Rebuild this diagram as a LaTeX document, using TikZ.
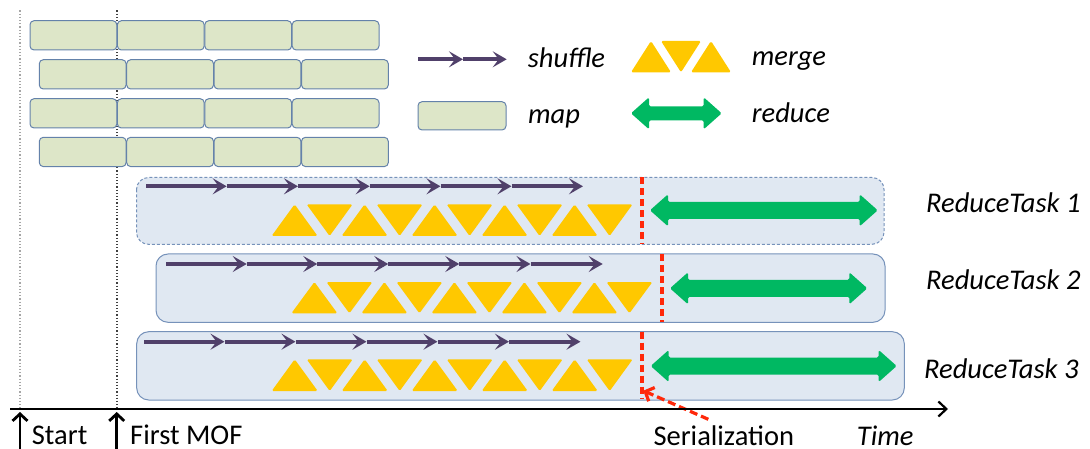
\documentclass[tikz,border=0pt]{standalone}
\usepackage{fontspec}
\setmainfont{Carlito}
\usetikzlibrary{arrows.meta}

\definecolor{mapfill}{RGB}{221,230,200}
\definecolor{mapline}{RGB}{100,130,170}
\definecolor{taskfill}{RGB}{224,232,242}
\definecolor{taskline}{RGB}{118,146,186}
\definecolor{shufflecol}{RGB}{80,64,106}
\definecolor{mergecol}{RGB}{255,200,0}
\definecolor{reducecol}{RGB}{0,184,98}
\definecolor{serialcol}{RGB}{255,40,10}

% one row of alternating up/down merge triangles: first centre, top, bottom
\newcommand\mergerow[3]{%
  \foreach \i in {0,...,9}{%
    \pgfmathsetmacro\c{#1+35*\i}%
    \ifodd\i
      \fill[mergetri] (\c-23,#2) -- (\c+23,#2) -- (\c,#3) -- cycle;
    \else
      \fill[mergetri] (\c-23,#3) -- (\c+23,#3) -- (\c,#2) -- cycle;
    \fi}}

% green double-headed arrow: left x, right x, centre y, half shaft thickness
\newcommand\reduceshape[4]{%
  \fill[reducefill] (#1,#3) -- (#1+18,#3-16) -- (#1+18,#3-#4) -- (#2-18,#3-#4)
    -- (#2-18,#3-16) -- (#2,#3) -- (#2-18,#3+16) -- (#2-18,#3+#4)
    -- (#1+18,#3+#4) -- (#1+18,#3+16) -- cycle;}

\begin{document}
\begin{tikzpicture}[x=1pt,y=-1pt,
  mapblock/.style={draw=mapline, line width=1pt, fill=mapfill, rounded corners=4pt},
  taskbox/.style={draw=taskline, line width=1pt, fill=taskfill, rounded corners=12pt},
  shufflearrow/.style={draw=shufflecol, line width=3.6pt,
    -{Stealth[length=14pt,width=16pt,inset=6pt]}},
  mergetri/.style={fill=mergecol, rounded corners=1.5pt},
  reducefill/.style={fill=reducecol, rounded corners=1.5pt},
  serialline/.style={draw=serialcol, line width=3.8pt, dash pattern=on 7pt off 4pt},
  guide/.style={line width=1.2pt, dotted},
  lbl/.style={font=\fontsize{28.5}{32}\selectfont, inner sep=0pt, anchor=base west},
]
\useasboundingbox (0,0) rectangle (1090,449);

% time guides for start and first map output
\coordinate (startTop) at (20,10.5);
\coordinate (startAxis) at (20,409);
\coordinate (mofTop) at (117,10.5);
\coordinate (mofAxis) at (117,409);
\draw[guide, gray!70] (startTop) -- (startAxis);
\draw[guide, black!75] (mofTop) -- (mofAxis);

% map tasks, four waves
\foreach \y/\x in {20.7/30, 59.7/39.3, 98.7/30, 137.3/39.3}{
  \foreach \k in {0,...,3}{
    \draw[mapblock] ({\x+87.4*\k},\y) rectangle ({\x+87.4*\k+86.8},\y+29.3);
  }
}

% legend
\coordinate (lgA) at (418,59.3);
\coordinate (lgB) at (463,59.3);
\coordinate (lgC) at (506.7,59.3);
\draw[shufflearrow] (lgA) -- (lgB);
\draw[shufflearrow] (lgB) -- (lgC);
\node[lbl] (lshuffle) at (527.7,67.7) {\itshape shuffle};
\fill[mergetri] (631,72.3) -- (671,72.3) -- (651,41) -- cycle;
\fill[mergetri] (661,41) -- (701,41) -- (681,72.3) -- cycle;
\fill[mergetri] (691,72.3) -- (731,72.3) -- (711,41) -- cycle;
\node[lbl] (lmerge) at (751.7,65.7) {\itshape merge};
\draw[mapblock] (418,101.7) rectangle (506,130);
\node[lbl] (lmap) at (528,123.3) {\itshape map};
\reduceshape{631}{721.7}{113.3}{7}
\node[lbl] (lreduce) at (751.7,122.7) {\itshape reduce};

% ReduceTask 1
\draw[taskbox, dash pattern=on 3pt off 2pt] (136.5,177.5) rectangle (884,244.3);
\foreach \t [remember=\t as \p (initially 146)] in {226.7,298,369.7,440.5,511.5,583}
  \draw[shufflearrow] (\p,186.3) -- (\t,186.3);
\mergerow{294.6}{204.3}{236}
\coordinate (ser1a) at (642,177.5);
\coordinate (ser1b) at (642,244.3);
\draw[serialline] (ser1a) -- (ser1b);
\reduceshape{650}{877.7}{210.3}{8.5}
\node[lbl] (rt1) at (926,212.7) {\itshape ReduceTask 1};

% ReduceTask 2
\draw[taskbox] (156,254) rectangle (885,322.3);
\foreach \t [remember=\t as \p (initially 166)] in {246.7,317.3,388.3,459.3,530.5,602.7}
  \draw[shufflearrow] (\p,264) -- (\t,264);
\mergerow{314.4}{282}{313.3}
\coordinate (ser2a) at (661.7,254);
\coordinate (ser2b) at (661.7,322.3);
\draw[serialline] (ser2a) -- (ser2b);
\reduceshape{670}{867.3}{288.3}{8.5}
\node[lbl] (rt2) at (926,290) {\itshape ReduceTask 2};

% ReduceTask 3
\draw[taskbox] (136.7,331.7) rectangle (904.3,400);
\foreach \t [remember=\t as \p (initially 144)] in {224.5,295.5,366.5,437.5,509,580.5}
  \draw[shufflearrow] (\p,341.7) -- (\t,341.7);
\mergerow{294.7}{359.3}{391}
\coordinate (ser3a) at (642,331.7);
\coordinate (ser3b) at (642,399.3);
\draw[serialline] (ser3a) -- (ser3b);
\reduceshape{650.7}{896.7}{366}{8.5}
\node[lbl] (rt3) at (924,378.3) {\itshape ReduceTask 3};

% serialization pointer
\coordinate (serFrom) at (708.3,419.3);
\coordinate (serTo) at (643.3,390.7);
\draw[serialcol, line width=3.2pt, dash pattern=on 8pt off 4pt,
  -{Straight Barb[length=7pt,width=15pt]}] (serFrom) -- (serTo);

% time axis
\coordinate (axL) at (10,409);
\coordinate (axR) at (948,409);
\draw[line width=2.2pt, -{Straight Barb[length=8pt,width=15pt]}] (axL) -- (axR);

% event markers below the axis
\coordinate (startBot) at (20,452);
\coordinate (startTip) at (20,412);
\coordinate (mofBot) at (116.7,452);
\coordinate (mofTip) at (116.7,412);
\draw[line width=2.8pt, -{Straight Barb[length=7pt,width=15pt]}] (startBot) -- (startTip);
\draw[line width=2.8pt, -{Straight Barb[length=7pt,width=15pt]}] (mofBot) -- (mofTip);
\node[lbl] (lstart) at (31.7,444.5) {Start};
\node[lbl] (lmof) at (130,444.5) {First MOF};
\node[lbl] (lser) at (653.3,445.5) {Serialization};
\node[lbl] (ltime) at (856.7,445.5) {\itshape Time};
\end{tikzpicture}
\end{document}
